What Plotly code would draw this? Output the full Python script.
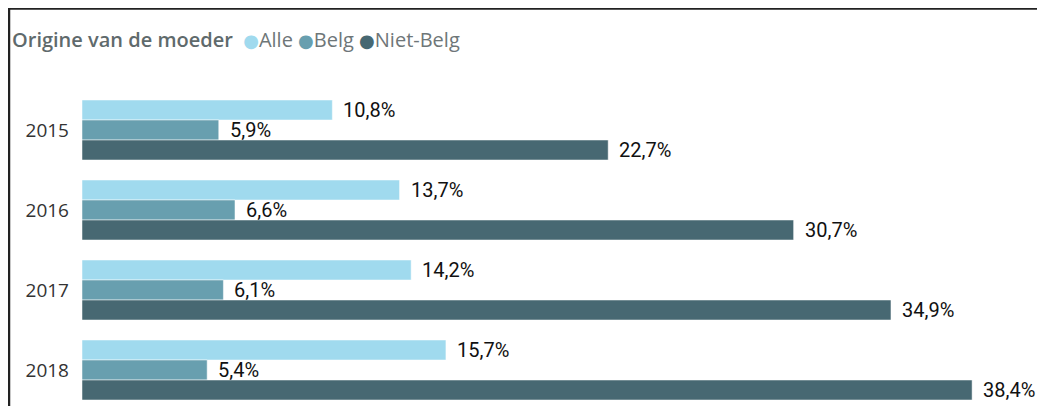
import plotly.graph_objects as go

years = ["2015", "2016", "2017", "2018"]
alle = [10.8, 13.7, 14.2, 15.7]
belg = [5.9, 6.6, 6.1, 5.4]
niet_belg = [22.7, 30.7, 34.9, 38.4]
series_names = ["Alle", "Belg", "Niet-Belg"]
colors = ["#A0DAEE", "#689FAF", "#476872"]
legend_title = "Origine van de moeder"

def fmt(v):
    return ("%.1f%%" % v).replace(".", ",")

# page has an 8px body margin; figure sized to fill the rest of the window
W, H = 1037, 398
L, T = 74, 82
pw, ph = W - L, H - T
px_per_pct = 23.18
group_px = 80.0

fig = go.Figure()
all_vals = [alle, belg, niet_belg]
for k, (name, vals, col) in enumerate(zip(series_names, all_vals, colors)):
    fig.add_trace(go.Bar(
        y=years, x=vals, orientation="h", name=name,
        marker=dict(color=col, line=dict(color="white", width=0.5)),
        showlegend=False, hoverinfo="skip",
    ))

annotations = []
# data labels, offset to the right of each bar
for k, vals in enumerate(all_vals):
    for i, v in enumerate(vals):
        # bar k of 3 within group of width 0.75 centred on category i
        yc = i - 0.375 + 0.25 * k + 0.125
        annotations.append(dict(
            x=v, y=yc, xref="x", yref="y", text=fmt(v), showarrow=False,
            xanchor="left", yanchor="middle", xshift=9,
            font=dict(family="Roboto", size=20, color="#111"),
        ))

# legend line (title + coloured circles)
parts = ["<span style='font-weight:600;color:#5F6A6C'>%s</span>&nbsp;&nbsp;" % legend_title]
for name, col in zip(series_names, colors):
    parts.append("<span style='color:%s;font-family:DejaVu Sans;font-size:18px'>●</span>%s&nbsp;" % (col, name))
annotations.append(dict(
    x=(2 - L) / pw, y=1 + (T - 31) / ph, xref="paper", yref="paper",
    xanchor="left", yanchor="middle", showarrow=False, align="left",
    text="".join(parts),
    font=dict(family="Open Sans", size=20, color="#6E7678"),
))

fig.update_layout(
    width=W, height=H,
    margin=dict(l=L, r=0, t=T, b=0),
    paper_bgcolor="white", plot_bgcolor="white",
    barmode="group", bargap=0.25, bargroupgap=0,
    font=dict(family="Open Sans", size=16, color="#333"),
    showlegend=False,
    xaxis=dict(range=[0, pw / px_per_pct], visible=False),
    yaxis=dict(range=[(ph / group_px) - 0.5, -0.5], showgrid=False, zeroline=False,
               showline=False, ticks="", ticklabelstandoff=12,
               tickfont=dict(family="Open Sans", size=19, color="#333")),
    annotations=annotations,
    shapes=[
        dict(type="line", xref="paper", yref="paper",
             x0=(0 - L) / pw, x1=1.01, y0=1 + (T - 0.5) / ph, y1=1 + (T - 0.5) / ph,
             line=dict(color="#222", width=2.5)),
        dict(type="line", xref="paper", yref="paper",
             x0=(1 - L) / pw, x1=(1 - L) / pw, y0=1 + T / ph, y1=-0.05,
             line=dict(color="#222", width=2.5)),
    ],
)

fig.write_html("out.html")
